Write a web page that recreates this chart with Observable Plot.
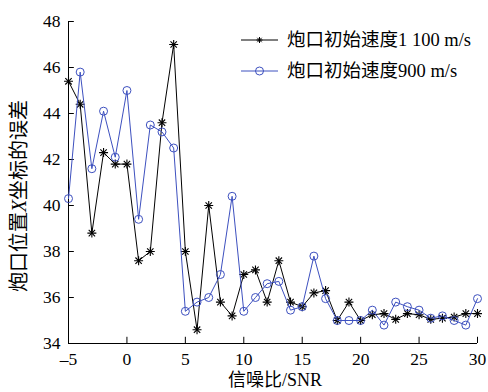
<!DOCTYPE html>
<html><head><meta charset="utf-8">
<script src="https://cdn.jsdelivr.net/npm/d3@7"></script>
<script src="https://cdn.jsdelivr.net/npm/@observablehq/plot@0.6"></script>
<style>
body{margin:0;background:#fff;}
</style></head>
<body><div id="chart"></div>
<script>
const snr = [-5,-4,-3,-2,-1,0,1,2,3,4,5,6,7,8,9,10,11,12,13,14,15,16,17,18,19,20,21,22,23,24,25,26,27,28,29,30];
const v1100 = [45.4,44.4,38.8,42.3,41.8,41.8,37.6,38.0,43.6,47.0,38.0,34.6,40.0,35.8,35.2,37.0,37.2,35.8,37.6,35.8,35.6,36.2,36.3,35.0,35.8,35.0,35.25,35.3,35.05,35.3,35.25,35.05,35.1,35.15,35.3,35.3];
const v900 = [40.3,45.8,41.6,44.1,42.1,45.0,39.4,43.5,43.2,42.5,35.4,35.8,36.0,37.0,40.4,35.4,36.0,36.6,36.7,35.45,35.6,37.8,35.95,35.0,35.0,35.0,35.45,34.8,35.8,35.6,35.45,35.1,35.2,35.0,34.8,35.95];
const xTicks = [-5,0,5,10,15,20,25,30];
const yTicks = [34,36,38,40,42,44,46,48];
const seriesNames = ["炮口初始速度1 100 m/s","炮口初始速度900 m/s"];
const xLabel = "信噪比/SNR";
const yLabelParts = ["炮口位置","X","坐标的误差"];

const black = "#000";
const blue = "#3d50bf";
const d1100 = snr.map((x,i)=>({x, y:v1100[i]}));
const d900 = snr.map((x,i)=>({x, y:v900[i]}));

const font = "'Liberation Serif','Times New Roman','Noto Sans CJK SC',serif";

const chart = Plot.plot({
  width: 488, height: 392,
  marginLeft: 68, marginRight: 11, marginTop: 21, marginBottom: 49,
  style: {fontFamily: font, fontSize: "17px", color: "#000", background: "#fff"},
  x: {domain: [-5,30]},
  y: {domain: [34,48]},
  marks: [
    Plot.axisX({ticks: xTicks, tickSize: 0, tickPadding: 9, tickFormat: d => d < 0 ? "–" + Math.abs(d) : String(d), label: null, fontSize: 17.5}),
    Plot.axisY({ticks: yTicks, tickSize: 0, tickPadding: 8, label: null, fontSize: 17.5}),
    Plot.ruleY(yTicks, {y: d => d, x1: -5, x2: -4.5, stroke: black, strokeWidth: 1}),
    Plot.ruleX(xTicks, {x: d => d, y1: 34, y2: 34.27, stroke: black, strokeWidth: 1}),
    Plot.ruleX([-5], {stroke: black, strokeWidth: 1}),
    Plot.ruleY([34], {stroke: black, strokeWidth: 1}),
    Plot.line(d1100, {x: "x", y: "y", stroke: black, strokeWidth: 1}),
    Plot.dot(d1100, {x: "x", y: "y", symbol: "plus", r: 3, stroke: black, strokeWidth: 1.1}),
    Plot.dot(d1100, {x: "x", y: "y", symbol: "times", r: 3, stroke: black, strokeWidth: 1.1}),
    Plot.line(d900, {x: "x", y: "y", stroke: blue, strokeWidth: 1}),
    Plot.dot(d900, {x: "x", y: "y", symbol: "circle", r: 4, stroke: blue, fill: "none", strokeWidth: 1})
  ]
});

const svg = d3.select(chart);
// x label
svg.append("text").attr("x", 275).attr("y", 386).attr("text-anchor","middle")
  .style("font-family", font).style("font-size","18px").attr("fill","#000").text(xLabel);
// y label
const yl = svg.append("text").attr("transform","translate(26,196) rotate(-90)").attr("text-anchor","middle")
  .style("font-family", font).style("font-size","20px").attr("fill","#000");
yl.append("tspan").text(yLabelParts[0]);
yl.append("tspan").style("font-style","italic").text(yLabelParts[1]);
yl.append("tspan").text(yLabelParts[2]);
// legend
const leg = svg.append("g").attr("text-anchor","start");
const rows = [{name: seriesNames[0], color: black, y: 40, type: "star"},{name: seriesNames[1], color: blue, y: 71, type: "circle"}];
rows.forEach(r => {
  leg.append("line").attr("x1",241).attr("x2",278).attr("y1",r.y).attr("y2",r.y).attr("stroke",r.color).attr("stroke-width",1);
  if (r.type === "star") {
    leg.append("path").attr("d", "M-3,0H3M0,-3V3M-2.2,-2.2L2.2,2.2M-2.2,2.2L2.2,-2.2").attr("transform",`translate(259.5,${r.y})`).attr("stroke",r.color).attr("fill","none");
  } else {
    leg.append("circle").attr("cx",259.5).attr("cy",r.y).attr("r",4).attr("stroke",r.color).attr("fill","none");
  }
  leg.append("text").attr("x",287).attr("y",r.y).attr("dy","0.35em").attr("text-anchor","start").style("font-family",font).style("font-size","18.5px").attr("fill","#000").text(r.name);
});

document.getElementById("chart").appendChild(chart);
</script></body></html>
